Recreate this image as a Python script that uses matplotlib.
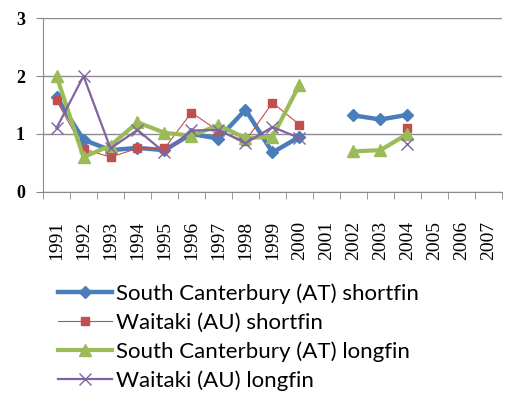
import numpy as np
import matplotlib.pyplot as plt

years = [str(y) for y in range(1991, 2008)]
nan = np.nan

# eel catch ratios per year (gaps where no survey)
sc_shortfin = [1.64, 0.90, 0.72, 0.76, 0.72, 1.00, 0.92, 1.42, 0.68, 0.95,
               nan, 1.32, 1.25, 1.33, nan, nan, nan]
wt_shortfin = [1.58, 0.74, 0.60, 0.75, 0.75, 1.37, 1.05, 0.88, 1.54, 1.16,
               nan, nan, nan, 1.10, nan, nan, nan]
sc_longfin = [2.00, 0.60, 0.80, 1.20, 1.02, 0.97, 1.15, 0.93, 0.95, 1.85,
              nan, 0.70, 0.72, 1.00, nan, nan, nan]
wt_longfin = [1.10, 2.00, 0.75, 1.07, 0.68, 1.06, 1.07, 0.84, 1.12, 0.93,
              nan, nan, nan, 0.82, nan, nan, nan]

x = np.arange(len(years))

fig = plt.figure(figsize=(5.06, 3.94), dpi=100)
ax = fig.add_axes([0.085, 0.513, 0.907, 0.441])

ax.plot(x, sc_shortfin, color='#4a7ebb', lw=3.2, marker='D', ms=6.5,
        label='South Canterbury (AT) shortfin')
ax.plot(x, wt_shortfin, color='#c0504d', lw=0.8, marker='s', ms=6,
        label='Waitaki (AU) shortfin')
ax.plot(x, sc_longfin, color='#9bbb59', lw=3.0, marker='^', ms=8,
        label='South Canterbury (AT) longfin')
ax.plot(x, wt_longfin, color='#8064a2', lw=1.6, marker='x', ms=9, mew=1.0,
        label='Waitaki (AU) longfin')

ax.set_xlim(-0.5, len(years) - 0.5)
ax.set_ylim(0, 3)
ax.set_yticks([0, 1, 2, 3])
ax.set_xticks(x)
ax.set_xticklabels(years, rotation=90, family='Liberation Serif', fontsize=14)
ax.set_xticks(np.arange(-0.5, len(years), 1), minor=True)
ax.tick_params(axis='x', which='major', length=0, pad=21)
ax.tick_params(axis='x', which='minor', length=5, color='#888888', direction='out')
ax.tick_params(axis='y', length=5, color='#888888', pad=8)
for lab in ax.get_yticklabels():
    lab.set_family('Liberation Serif')
    lab.set_fontsize(13)
    lab.set_fontweight('bold')

ax.grid(axis='y', color='#8c8c8c', lw=1.0)
ax.set_axisbelow(True)
for side in ['top', 'right']:
    ax.spines[side].set_visible(False)
ax.spines['left'].set_color('#8c8c8c')
ax.spines['bottom'].set_color('#8c8c8c')

fig.legend(loc='upper left', bbox_to_anchor=(0.1146, 0.2805), frameon=False,
           handlelength=2.43, handletextpad=0.18, labelspacing=0.38,
           borderaxespad=0, borderpad=0,
           prop={'family': 'Lato', 'size': 16})

fig.savefig('out.png', dpi=100)
